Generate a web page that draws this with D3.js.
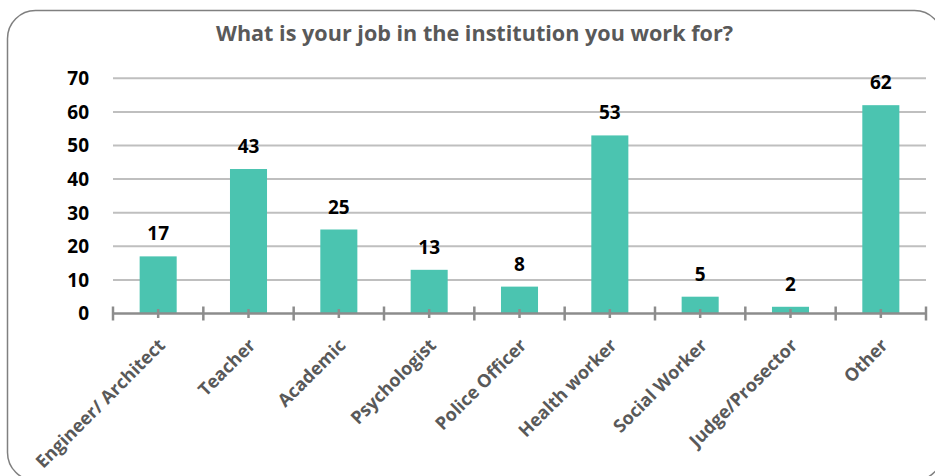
<!DOCTYPE html>
<html><head><meta charset="utf-8">
<script src="https://cdn.jsdelivr.net/npm/d3@7"></script>
<style>html,body{margin:0;padding:0;background:#fff;}svg{display:block;}</style>
</head><body>
<script>
const title = "What is your job in the institution you work for?";
const categories = ["Engineer/ Architect","Teacher","Academic","Psychologist","Police Officer","Health worker","Social Worker","Judge/Prosector","Other"];
const values = [17,43,25,13,8,53,5,2,62];
const yTicks = [0,10,20,30,40,50,60,70];

const W = 935, H = 476;
const svg = d3.select("body").append("svg").attr("width",W).attr("height",H);
const font = "'Open Sans', sans-serif";

svg.append("rect").attr("x",7.5).attr("y",10.5).attr("width",935).attr("height",470)
  .attr("rx",28).attr("ry",28).attr("fill","#fff").attr("stroke","#808080").attr("stroke-width",1.5);

const x = d3.scaleBand().domain(categories).range([113,926]).paddingInner(0.59).paddingOuter(0.295);
const xb = d3.scaleLinear().domain([0,categories.length]).range([113,926]);
const y = d3.scaleLinear().domain([0,70]).range([313.5,78.3]);

svg.append("text").attr("x",474.5).attr("y",41).attr("text-anchor","middle")
  .attr("font-family",font).attr("font-weight","bold").attr("font-size",21).attr("fill","#595959")
  .attr("textLength",517).attr("lengthAdjust","spacingAndGlyphs").text(title);

// grid
svg.append("g").selectAll("line").data(yTicks.filter(d=>d>0)).join("line")
  .attr("x1",113).attr("x2",926).attr("y1",d=>y(d)).attr("y2",d=>y(d))
  .attr("stroke","#bfbfbf").attr("stroke-width",2);

// y labels
svg.append("g").selectAll("text").data(yTicks).join("text")
  .attr("x",89).attr("y",d=>y(d)).attr("dy","0.36em").attr("text-anchor","end")
  .attr("font-family",font).attr("font-weight","bold").attr("font-size",19).attr("fill","#000").text(d=>d);

// bars
svg.append("g").selectAll("rect").data(values).join("rect")
  .attr("x",(d,i)=>x(categories[i])).attr("width",x.bandwidth())
  .attr("y",d=>y(d)).attr("height",d=>y(0)-y(d)).attr("fill","#4bc4b0");

// axis line and ticks
svg.append("line").attr("x1",113).attr("x2",926).attr("y1",y(0)).attr("y2",y(0))
  .attr("stroke","#8c8c8c").attr("stroke-width",2.5);
svg.append("g").selectAll("line").data(d3.range(categories.length+1)).join("line")
  .attr("x1",d=>xb(d)).attr("x2",d=>xb(d)).attr("y1",y(0)-7).attr("y2",y(0)+7)
  .attr("stroke","#8c8c8c").attr("stroke-width",2.5);
svg.append("g").selectAll("line").data(categories).join("line")
  .attr("x1",d=>x(d)+x.bandwidth()/2).attr("x2",d=>x(d)+x.bandwidth()/2).attr("y1",y(0)-4.5).attr("y2",y(0)+4.5)
  .attr("stroke","#8c8c8c").attr("stroke-width",2.5);

// value labels
svg.append("g").selectAll("text").data(values).join("text")
  .attr("x",(d,i)=>x(categories[i])+x.bandwidth()/2).attr("y",d=>y(d)-16)
  .attr("text-anchor","middle").attr("font-family",font).attr("font-weight","bold").attr("font-size",19).attr("fill","#000")
  .text(d=>d);

// x labels
svg.append("g").selectAll("text").data(categories).join("text")
  .attr("transform",d=>`translate(${x(d)+x.bandwidth()/2+8},${y(0)+33}) rotate(-45)`)
  .attr("text-anchor","end").attr("font-family",font).attr("font-weight","bold").attr("font-size",18).attr("fill","#595959")
  .text(d=>d);
</script>
</body></html>
